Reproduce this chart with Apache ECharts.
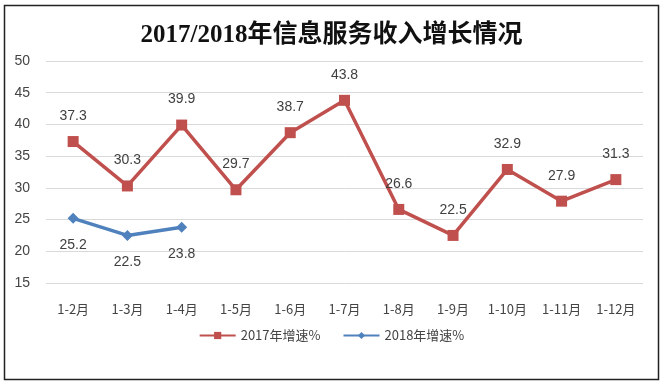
<!DOCTYPE html>
<html>
<head>
<meta charset="utf-8">
<script src="https://cdn.jsdelivr.net/npm/echarts@6/dist/echarts.min.js"></script>
<style>
html,body{margin:0;padding:0;background:#fff;}
#c{width:663px;height:385px;}
</style>
</head>
<body>
<div id="c"></div>
<script>
var categories = ['1-2月','1-3月','1-4月','1-5月','1-6月','1-7月','1-8月','1-9月','1-10月','1-11月','1-12月'];
var series2017 = [37.3, 30.3, 39.9, 29.7, 38.7, 43.8, 26.6, 22.5, 32.9, 27.9, 31.3];
var series2018 = [25.2, 22.5, 23.8];
var yTicks = [15, 20, 25, 30, 35, 40, 45, 50];
var titleText = '2017/2018年信息服务收入增长情况';
var name2017 = '2017年增速%';
var name2018 = '2018年增速%';

var chart = echarts.init(document.getElementById('c'), null, {renderer:'canvas'});
var labelFont = "'Noto Sans CJK SC', 'Liberation Sans', sans-serif";
chart.setOption({
  backgroundColor: '#fff',
  animation: false,
  graphic: [{
    type: 'rect', shape: {x: 4.5, y: 5.5, width: 654, height: 374},
    style: {fill: 'none', stroke: '#222', lineWidth: 1.5}, z: 100
  }],
  title: {
    text: titleText, left: 'center', top: 18,
    textStyle: {fontFamily: "'Liberation Serif', 'Noto Sans CJK SC', serif", fontSize: 25, fontWeight: 'bold', color: '#111'}
  },
  legend: {
    bottom: 38, left: 'center', itemGap: 22, itemWidth: 36, itemHeight: 9,
    textStyle: {fontFamily: labelFont, fontSize: 13, color: '#444'},
    data: [name2017, name2018]
  },
  grid: {left: 46, right: 20, top: 61, bottom: 102, containLabel: false},
  xAxis: {
    type: 'category', data: categories, boundaryGap: true,
    axisLine: {show: false}, axisTick: {show: false},
    axisLabel: {margin: 20, fontFamily: labelFont, fontSize: 13, color: '#444'}
  },
  yAxis: {
    type: 'value', min: yTicks[0], max: yTicks[yTicks.length-1], interval: 5,
    axisLine: {show: false}, axisTick: {show: false},
    axisLabel: {margin: 16, fontFamily: "'Liberation Sans', sans-serif", fontSize: 14, color: '#444'},
    splitLine: {lineStyle: {color: '#d9d9d9', width: 1}}
  },
  series: [{
    name: name2017, type: 'line', data: series2017,
    symbol: 'rect', symbolSize: 11,
    lineStyle: {color: '#C0504D', width: 3.5},
    itemStyle: {color: '#C0504D'},
    label: {show: true, position: 'top', distance: 13, fontFamily: "'Liberation Sans', sans-serif", fontSize: 14, color: '#404040'}
  }, {
    name: name2018, type: 'line', data: series2018,
    symbol: 'diamond', symbolSize: 11,
    lineStyle: {color: '#4F81BD', width: 3.5},
    itemStyle: {color: '#4F81BD'},
    label: {show: true, position: 'bottom', distance: 14, fontFamily: "'Liberation Sans', sans-serif", fontSize: 14, color: '#404040'}
  }]
});
</script>
</body>
</html>
